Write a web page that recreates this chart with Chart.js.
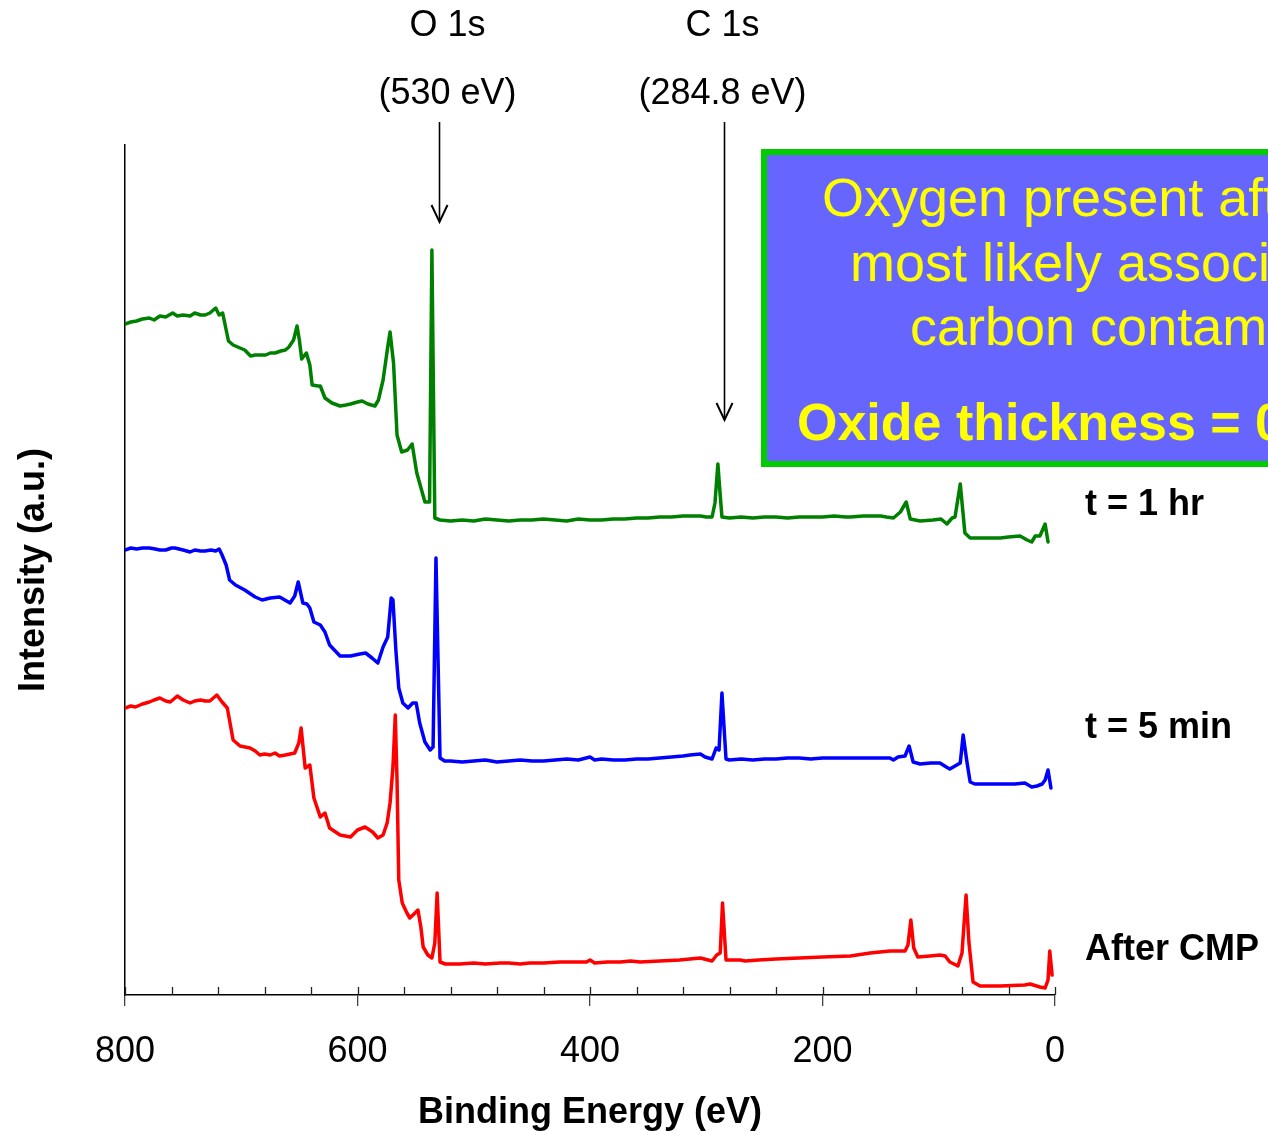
<!DOCTYPE html>
<html>
<head>
<meta charset="utf-8">
<script src="https://cdn.jsdelivr.net/npm/chart.js@4.4.1/dist/chart.umd.min.js"></script>
<style>
  html, body { margin: 0; padding: 0; background: #fff; }
  #wrap { width: 1268px; height: 1131px; }
</style>
</head>
<body>
<div id="wrap"><canvas id="xps" width="1268" height="1131"></canvas></div>
<script>
// XPS survey spectra, binding energy (eV) vs intensity (a.u., offset per scan)

// t = 1 hr
const hourEnergy = [
  800, 795, 790, 785, 779, 775, 770, 765, 759, 755,
  750, 744, 740, 735, 731, 727, 722, 719, 716, 711,
  707, 701, 697, 692, 688, 683, 679, 675, 671, 666,
  662, 659, 655, 652, 650, 648, 644, 641, 639, 634,
  632, 628, 622, 615, 610, 606, 600, 596, 591, 585,
  582, 578, 574, 572, 569, 566, 562, 557, 553, 549,
  542, 538, 536, 533.5, 529, 520, 510, 500, 490, 480,
  470, 460, 450, 440, 430, 420, 410, 400, 390, 380,
  370, 360, 350, 340, 330, 320, 310, 305, 300, 295,
  292.5, 290, 288, 286.5, 280, 270, 260, 250, 240, 230,
  220, 210, 200, 190, 180, 176, 165, 150, 145, 139,
  133, 128, 124.5, 116, 105, 98, 93, 88.5, 86, 81.5,
  77.5, 73, 60, 47, 40, 30, 24, 20, 17, 13,
  8.5, 6
];
const hourCounts = [
  671, 673, 674, 676, 677, 675, 679, 678, 682, 679,
  680, 679, 682, 680, 680, 682, 687, 680, 682, 654,
  650, 647, 645, 639, 640, 640, 640, 642, 642, 644,
  645, 648, 655, 669, 655, 636, 642, 630, 610, 609,
  609, 597, 592, 589, 590, 591, 593, 594, 591, 589,
  595, 615, 648, 663, 632, 560, 543, 545, 551, 522,
  493, 493, 745, 477, 475, 474, 475, 474, 476, 475,
  474, 475, 475, 476, 475, 474, 476, 475, 475, 476,
  476, 477, 477, 478, 478, 479, 479, 479, 478, 478,
  492, 531, 500, 478, 477, 478, 477, 478, 478, 477,
  478, 478, 478, 479, 478, 478, 479, 479, 478, 477,
  483, 493, 476, 474, 475, 476, 471, 477, 478, 511,
  462, 457, 457, 457, 458, 459, 455, 453, 459, 459,
  471, 453
];

// t = 5 min
const fiveMinEnergy = [
  800, 795, 790, 785, 779, 774, 770, 765, 760, 757,
  750, 744, 740, 735, 731, 726, 722, 719, 716.5, 713,
  710, 705, 697, 688, 682, 675, 667, 658, 654, 651,
  647, 643.5, 641, 637.5, 632, 628, 624, 615, 606, 598,
  593, 587.5, 582.5, 578, 574, 571, 569.5, 567, 564.5, 561,
  556.5, 552.5, 549.5, 546.5, 542, 537.5, 535, 532.5, 529, 525,
  520, 510, 500, 490, 480, 470, 460, 450, 440, 430,
  420, 410, 400, 396, 390, 380, 370, 360, 350, 340,
  330, 320, 314, 305, 301, 295, 291.5, 289, 286.5, 283,
  280, 270, 260, 250, 240, 230, 220, 210, 200, 190,
  176, 160, 142, 139, 135, 129, 125.5, 122, 116, 107,
  99, 93.5, 90.5, 86, 81.5, 79, 76, 73, 69, 55,
  47, 34.5, 26, 20, 15.5, 11, 8.5, 6, 3.5
];
const fiveMinCounts = [
  445, 447, 446, 447, 447, 446, 445, 445, 447, 447,
  445, 443, 445, 444, 444, 445, 444, 446, 440, 430,
  415, 410, 405, 398, 395, 397, 398, 392, 399, 413,
  392, 391, 387, 373, 370, 363, 350, 339, 339, 341,
  342, 337, 332, 348, 358, 397, 395, 345, 307, 292,
  287, 292, 292, 272, 253, 245, 248, 437, 237, 234,
  234, 233, 234, 235, 233, 234, 235, 234, 234, 235,
  236, 235, 238, 235, 236, 235, 235, 236, 236, 237,
  238, 239, 240, 241, 238, 236, 247, 245, 302, 236,
  235, 236, 235, 236, 236, 237, 237, 236, 237, 237,
  237, 237, 237, 235, 238, 239, 249, 233, 231, 232,
  232, 228, 226, 229, 232, 260, 235, 213, 211, 211,
  211, 211, 212, 208, 209, 211, 215, 225, 207
];

// After CMP
const cmpEnergy = [
  800, 795, 791, 785, 779, 775, 770, 765, 761, 755,
  750, 744, 740, 735, 731, 727, 721, 716.5, 712, 707,
  701, 692.5, 688, 684, 680, 675, 671, 667, 662, 658,
  654, 650.5, 648.5, 645, 641, 637.5, 632, 628, 624, 615,
  606, 600, 593.5, 587, 582.5, 578, 574.5, 572, 569.5, 567.5,
  566, 564.5, 561.5, 557.5, 555, 550.5, 548, 545.5, 543.5, 539.5,
  536, 533.5, 531.5, 529, 524.5, 512, 500, 490, 477, 470,
  460, 452, 440, 426, 410, 403, 400, 396, 385, 374,
  365, 357, 340, 323, 314, 305, 295, 291, 288, 286,
  283, 271, 266.5, 255, 240, 220, 200, 176, 159, 142,
  129, 126.5, 124, 121.5, 118, 107.5, 99, 94.5, 90.5, 83.5,
  80, 76.5, 74, 70.5, 64.5, 47, 26, 21.5, 13, 8.5,
  6, 4.5, 2.5
];
const cmpCounts = [
  287, 289, 288, 291, 293, 295, 297, 294, 293, 299,
  295, 292, 294, 295, 294, 294, 300, 293, 287, 255,
  249, 247, 244, 240, 241, 240, 242, 239, 240, 241,
  242, 252, 267, 227, 230, 197, 178, 182, 167, 160,
  158, 165, 168, 163, 157, 160, 172, 192, 228, 280,
  215, 115, 92, 82, 77, 82, 85, 68, 48, 40,
  37, 52, 102, 33, 31, 31, 32, 31, 32, 32,
  31, 32, 32, 33, 33, 33, 35, 32, 33, 33,
  34, 33, 34, 35, 36, 37, 34, 40, 42, 92,
  35, 35, 34, 35, 36, 37, 38, 39, 42, 44,
  44, 50, 75, 47, 38, 39, 40, 39, 33, 29,
  42, 100, 52, 13, 9, 9, 10, 11, 8, 7,
  15, 44, 20
];

const seriesNames = ["t = 1 hr", "t = 5 min", "After CMP"];
const seriesColors = ["#008000", "#0000ff", "#ff0000"];
const energyTicks = [800, 600, 400, 200, 0];

const peakNames = ["O 1s", "C 1s"];
const peakEnergies = [530, 284.8];
const peakEnergyLabels = ["(530 eV)", "(284.8 eV)"];

const noteLines = [
  "Oxygen present after CMP is",
  "most likely associated with",
  "carbon contamination"
];
const thicknessLine = "Oxide thickness = 0 nm";

const FONT = '"Liberation Sans", Arial, Helvetica, sans-serif';

const toPoints = (energy, counts) => energy.map((e, i) => ({ x: e, y: counts[i] }));

const spectra = [
  toPoints(hourEnergy, hourCounts),
  toPoints(fiveMinEnergy, fiveMinCounts),
  toPoints(cmpEnergy, cmpCounts),
];

// series labels sit right of the plot, given in intensity units
const labelLevels = [490, 267, 45];

const annotations = {
  id: "annotations",
  afterDraw(chart) {
    const { ctx, chartArea, scales } = chart;
    const xs = scales.x;
    const ys = scales.y;
    ctx.save();

    // inner tick marks along the energy axis
    ctx.strokeStyle = "#222";
    ctx.lineWidth = 1.3;
    xs.ticks.forEach((t) => {
      const px = Math.round(xs.getPixelForValue(t.value)) + 0.5;
      ctx.beginPath();
      ctx.moveTo(px, chartArea.bottom);
      ctx.lineTo(px, chartArea.bottom - 8);
      ctx.stroke();
    });

    // peak arrows and their labels
    const arrowTips = [222, 420];
    const labelShift = [8, -2];
    ctx.fillStyle = "#000";
    ctx.font = "36px " + FONT;
    ctx.textAlign = "center";
    ctx.textBaseline = "middle";
    peakEnergies.forEach((e, i) => {
      const px = Math.round(xs.getPixelForValue(e)) + 0.5;
      ctx.fillText(peakNames[i], px + labelShift[i], 26);
      ctx.fillText(peakEnergyLabels[i], px + labelShift[i], 94);
      ctx.strokeStyle = "#000";
      ctx.lineWidth = 1.6;
      ctx.beginPath();
      ctx.moveTo(px, 122);
      ctx.lineTo(px, arrowTips[i]);
      ctx.stroke();
      ctx.lineWidth = 2;
      ctx.beginPath();
      ctx.moveTo(px - 8, arrowTips[i] - 17);
      ctx.lineTo(px, arrowTips[i]);
      ctx.lineTo(px + 8, arrowTips[i] - 17);
      ctx.stroke();
    });

    // series names
    ctx.font = "bold 36px " + FONT;
    ctx.textAlign = "left";
    seriesNames.forEach((name, i) => {
      ctx.fillText(name, chartArea.right + 30, ys.getPixelForValue(labelLevels[i]));
    });

    // note box
    ctx.fillStyle = "#6666ff";
    ctx.fillRect(764, 152, 600, 312);
    ctx.strokeStyle = "#00cc00";
    ctx.lineWidth = 6;
    ctx.strokeRect(764, 152, 600, 312);

    ctx.fillStyle = "#ffff00";
    ctx.textBaseline = "alphabetic";
    ctx.font = "54px " + FONT;
    const starts = [822, 850, 910];
    const baselines = [216, 281, 345];
    noteLines.forEach((line, i) => ctx.fillText(line, starts[i], baselines[i]));
    ctx.font = "bold 52px " + FONT;
    ctx.fillText(thicknessLine, 797, 440);

    ctx.restore();
  },
};

new Chart(document.getElementById("xps"), {
  type: "line",
  data: {
    datasets: spectra.map((pts, i) => ({
      label: seriesNames[i],
      data: pts,
      borderColor: seriesColors[i],
      borderWidth: 3.5,
      borderJoinStyle: "round",
      borderCapStyle: "round",
      pointRadius: 0,
      tension: 0,
      fill: false,
    })),
  },
  options: {
    responsive: false,
    animation: false,
    devicePixelRatio: 1,
    layout: { padding: { top: 145, right: 213, left: 0, bottom: 0 } },
    plugins: { legend: { display: false }, tooltip: { enabled: false } },
    scales: {
      x: {
        type: "linear",
        reverse: true,
        min: 0,
        max: 800,
        afterFit: (s) => { s.height = 136; },
        afterBuildTicks: (s) => {
          const t = [];
          for (let v = 800; v >= 0; v -= 40) t.push({ value: v });
          s.ticks = t;
        },
        ticks: {
          autoSkip: false,
          maxRotation: 0,
          padding: 24,
          color: "#000",
          font: { family: FONT, size: 36 },
          callback: (v) => (energyTicks.includes(v) ? String(v) : ""),
        },
        grid: {
          drawOnChartArea: false,
          drawTicks: true,
          tickLength: 11,
          lineWidth: 1.3,
          color: (c) => (c.tick && energyTicks.includes(c.tick.value) ? "#444" : "rgba(0,0,0,0)"),
        },
        border: { color: "#000", width: 1.5 },
        title: {
          display: true,
          text: "Binding Energy (eV)",
          color: "#000",
          font: { family: FONT, size: 36, weight: "bold", lineHeight: 1 },
          padding: { top: 0, bottom: 0 },
        },
      },
      y: {
        min: 0,
        max: 850,
        afterFit: (s) => { s.width = 125; },
        ticks: { display: false },
        grid: { display: false, drawTicks: false },
        border: { color: "#000", width: 1.5 },
        title: {
          display: true,
          text: "Intensity (a.u.)",
          color: "#000",
          font: { family: FONT, size: 36, weight: "bold" },
          padding: { top: 12, bottom: 12 },
        },
      },
    },
  },
  plugins: [annotations],
});
</script>
</body>
</html>
